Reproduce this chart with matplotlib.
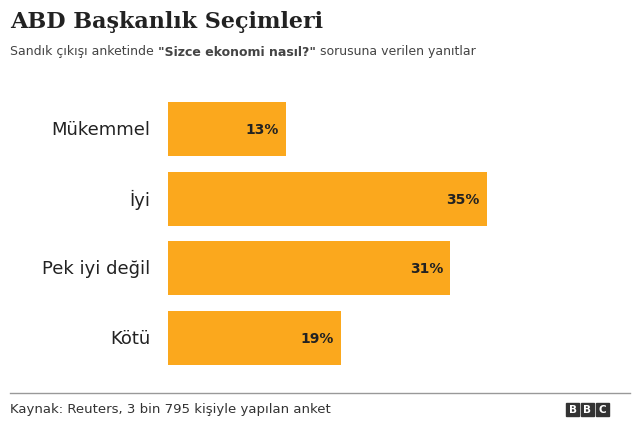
import matplotlib.pyplot as plt
from matplotlib.patches import Rectangle
from matplotlib.transforms import offset_copy

categories = ["Mükemmel", "İyi", "Pek iyi değil", "Kötü"]
values = [13, 35, 31, 19]

fig = plt.figure(figsize=(6.4, 4.27), dpi=100)
ax = fig.add_axes([168 / 640, 1 - 366 / 427, 1 - 168 / 640, (366 - 103) / 427])
ypos = range(len(categories))
ax.barh(ypos, values, height=0.78, color="#fba81d")
ax.set_xlim(0, (640 - 168) / 9.11)
ax.set_ylim(3.39, -0.39)
ax.axis("off")

for y, v, c in zip(ypos, values, categories):
    ax.text(v - 0.8, y, f"{v}%", ha="right", va="center", fontsize=10,
            fontweight="bold", color="#222222")
    fig.text(150 / 640, ax.transData.transform((0, y))[1] / 427, c,
             ha="right", va="center", fontsize=13, color="#222222")

fig.text(10 / 640, 1 - 22 / 427, "ABD Başkanlık Seçimleri", fontsize=16,
         fontweight="bold", family="DejaVu Serif", va="center", color="#222222")

# subtitle pieces placed one after another
parts = [("Sandık çıkışı anketinde ", "normal"),
         ("\"Sizce ekonomi nasıl?\"", "bold"),
         (" sorusuna verilen yanıtlar", "normal")]
fig.canvas.draw()
renderer = fig.canvas.get_renderer()
x = 10
for s, w in parts:
    t = fig.text(x / 640, 1 - 52 / 427, s, fontsize=9, fontweight=w,
                 va="center", color="#444444")
    x += t.get_window_extent(renderer).width

fig.add_artist(plt.Line2D([10 / 640, 630 / 640], [1 - 394 / 427] * 2,
                          color="#999999", lw=1))
fig.text(10 / 640, 1 - 410 / 427, "Kaynak: Reuters, 3 bin 795 kişiyle yapılan anket",
         fontsize=9.5, va="center", color="#333333")
for i, ch in enumerate("BBC"):
    x0 = 566 + i * 15
    fig.add_artist(Rectangle((x0 / 640, 1 - 417 / 427), 13 / 640, 13 / 427,
                             color="#333333", transform=fig.transFigure))
    fig.text((x0 + 6.5) / 640, 1 - 410.5 / 427, ch, fontsize=7.5, color="white",
             fontweight="bold", ha="center", va="center")

fig.savefig("out.png", dpi=100, facecolor="white")
